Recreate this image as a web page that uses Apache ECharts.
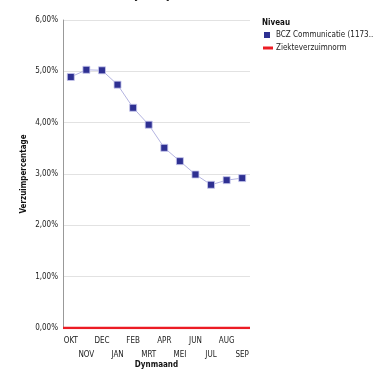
<!DOCTYPE html>
<html>
<head>
<meta charset="utf-8">
<script src="https://cdn.jsdelivr.net/npm/echarts@6/dist/echarts.min.js"></script>
<style>
  html, body { margin: 0; padding: 0; background: #fff; }
  #chart { width: 374px; height: 370px; }
</style>
</head>
<body>
<div id="chart"></div>
<script>
// Rolling-year absenteeism by month
const months = ['OKT', 'NOV', 'DEC', 'JAN', 'FEB', 'MRT', 'APR', 'MEI', 'JUN', 'JUL', 'AUG', 'SEP'];
const verzuim = [4.89, 5.03, 5.02, 4.74, 4.29, 3.96, 3.51, 3.25, 2.99, 2.79, 2.88, 2.92];
const norm = [0, 0, 0, 0, 0, 0, 0, 0, 0, 0, 0, 0];
const yTicks = [0, 1, 2, 3, 4, 5, 6];

const seriesName = 'BCZ Communicatie (1173..';
const normName = 'Ziekteverzuimnorm';
const font = '"DejaVu Sans Condensed", "DejaVu Sans", sans-serif';

const pct = v => v.toFixed(2).replace('.', ',') + '%';

const chart = echarts.init(document.getElementById('chart'));
chart.setOption({
  animation: false,
  textStyle: { fontFamily: font },
  graphic: [
    {
      type: 'text', left: 8, top: -9,
      style: { text: 'Ziekteverzuim voortschrijdend jaar', font: 'bold 10px ' + font, fill: '#222' }
    },
    {
      type: 'text', left: 262, top: 19,
      style: { text: 'Niveau', font: 'bold 8px ' + font, fill: '#111' }
    }
  ],
  legend: [
    {
      data: [{ name: seriesName, icon: 'rect', itemStyle: { borderWidth: 0 } }],
      left: 264, top: 31, itemWidth: 6, itemHeight: 6, itemGap: 2,
      padding: 0, selectedMode: false,
      textStyle: { fontSize: 8, color: '#222', padding: [0, 0, 0, 1] }
    },
    {
      data: [{ name: normName, icon: 'rect' }],
      left: 263, top: 44, itemWidth: 10, itemHeight: 3,
      padding: 0, selectedMode: false,
      textStyle: { fontSize: 8, color: '#222', padding: [0, 0, 0, -2] }
    }
  ],
  grid: { left: 63, right: 124, top: 20, bottom: 42, containLabel: false, outerBoundsMode: 'none' },
  xAxis: [
    {
      type: 'category', data: months, boundaryGap: true,
      name: 'Dynmaand', nameLocation: 'middle', nameGap: 33, nameMoveOverlap: false,
      nameTextStyle: { fontSize: 8, fontWeight: 'bold', color: '#111' },
      axisLine: { show: false }, axisTick: { show: false },
      axisLabel: {
        interval: 0, fontSize: 8, color: '#222', margin: 6, lineHeight: 14,
        formatter: (v, i) => (i % 2 === 1 ? '\n' + v : v)
      }
    },
    {
      type: 'category', data: months, boundaryGap: false, show: false
    }
  ],
  yAxis: {
    type: 'value', min: 0, max: 6, interval: 1,
    name: 'Verzuimpercentage', nameLocation: 'middle', nameGap: 35, nameMoveOverlap: false,
    nameTextStyle: { fontSize: 8, fontWeight: 'bold', color: '#111' },
    axisLine: { show: true, lineStyle: { color: '#999', width: 1 } },
    axisTick: { show: false },
    axisLabel: { fontSize: 8, color: '#222', margin: 5, formatter: v => pct(v) },
    splitLine: { lineStyle: { color: '#e2e2e2', width: 1 } }
  },
  series: [
    {
      name: seriesName, type: 'line', data: verzuim, xAxisIndex: 0,
      symbol: 'rect', symbolSize: 7,
      lineStyle: { color: '#b4b4e0', width: 1 },
      itemStyle: { color: '#2e3092', borderColor: '#c8c8ee', borderWidth: 0.8 },
      z: 3
    },
    {
      name: normName, type: 'line', data: norm, xAxisIndex: 1,
      symbol: 'none',
      lineStyle: { color: '#ec1c24', width: 2.5 },
      itemStyle: { color: '#ec1c24' },
      z: 4
    }
  ]
});
</script>
</body>
</html>
